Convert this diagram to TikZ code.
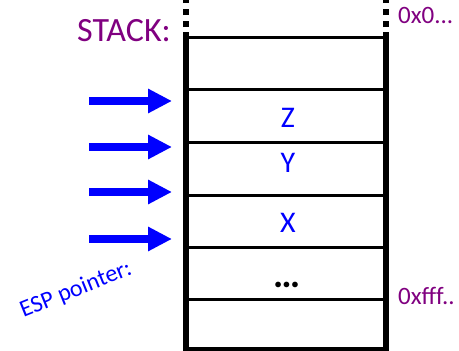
\documentclass[tikz,border=0pt]{standalone}
\usepackage{fontspec}
\setmainfont{Carlito}
\usetikzlibrary{arrows.meta, positioning}
\definecolor{azul}{RGB}{0, 0, 255}
\definecolor{violeta}{RGB}{128, 0, 128}
\tikzset{
  parede/.style={line width=6pt, black},
  linha/.style={line width=3pt, black},
  seta/.style={-{Triangle[length=24pt, width=23pt]}, line width=8pt, azul},
}

\begin{document}
\begin{tikzpicture}[
    x=1pt, y=-1pt,
    dado/.style={
        inner sep=0pt,
        text=azul,
        font=\fontsize{30}{36}\selectfont
    },
    endereco/.style={
        inner sep=0pt,
        anchor=base west,
        text=violeta,
        font=\fontsize{25}{30}\selectfont
    }
]

\useasboundingbox (0,0) rectangle (459,351);

% =================================================
% PILHA
% =================================================

% Paredes
\draw[parede] (186,32) -- (186,352);
\draw[parede] (386,32) -- (386,352);
\draw[parede, dash pattern=on 6pt off 6pt] (186,27) -- (186,-3);
\draw[parede, dash pattern=on 6pt off 6pt] (386,27) -- (386,-3);

% Divisorias
\foreach \y in {37.5, 89.5, 142, 195, 247, 299}
    \draw[linha] (186,\y) -- (386,\y);
\draw[linha, line width=4pt] (186,349) -- (386,349);

% Conteudo
\node[dado] (z) at (288,117.5) {Z};
\node[dado] (y) at (288,163) {Y};
\node[dado] (x) at (288,223) {X};
\node[dado, anchor=base, text=black, font=\fontsize{38}{44}\selectfont]
    (reticencias) at (287,287) {\textbf{…}};

% =================================================
% ROTULOS
% =================================================

\node[
    inner sep=0pt,
    anchor=base east,
    text=violeta,
    font=\fontsize{34}{40}\selectfont
] (pilha) at (171,41) {STACK:};

\node[endereco] (topo) at (398,23) {0x0...};
\node[endereco] (fundo) at (398,304) {0xfff..};

\node[
    inner sep=0pt,
    rotate=22,
    text=azul,
    font=\fontsize{24}{28}\selectfont
] (esp) at (76,290) {ESP pointer:};

% =================================================
% SETAS
% =================================================

\foreach \y [count=\i] in {101, 147, 192, 239} {
    \coordinate (cauda\i) at (89,\y);
    \coordinate (ponta\i) at (172,\y);
    \draw[seta] (cauda\i) -- (ponta\i);
}

\end{tikzpicture}
\end{document}
